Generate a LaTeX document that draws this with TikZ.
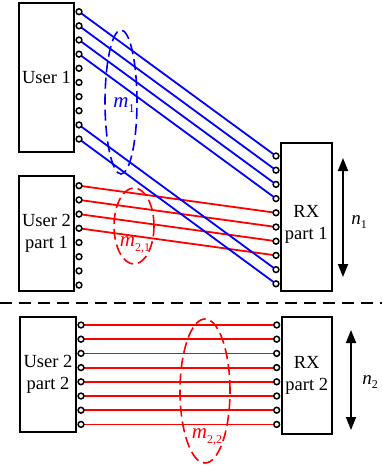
\documentclass[tikz,border=0pt]{standalone}
\usepackage{fontspec}
\setmainfont{Liberation Serif}
\usetikzlibrary{arrows.meta}
\newcommand{\subv}[3]{{\fontsize{#3}{#3}\selectfont\textit{#1}}\raisebox{-0.5ex}{\fontsize{12}{12}\selectfont #2}}
\begin{document}
\begin{tikzpicture}[x=1pt,y=-1pt,
  font=\fontsize{18.5}{22}\selectfont,
  box/.style={draw, line width=1.8pt, inner sep=0pt, align=center},
  port/.style={circle, draw, fill=white, line width=1.5pt, minimum size=5.8pt, inner sep=0pt},
  bl/.style={blue, line width=1.8pt},
  rd/.style={red, line width=1.8pt},
  grp/.style={dash pattern=on 11pt off 5pt, line width=1.6pt},
  dimarrow/.style={{Triangle[length=13pt,width=10pt]}-{Triangle[length=13pt,width=10pt]}, line width=1.8pt}]
\useasboundingbox (0,0) rectangle (382,466);
% boxes
\node[box, minimum width=55pt, minimum height=149pt] (u1) at (46.5,77.5) {User 1};
\node[box, minimum width=55pt, minimum height=115pt] (u21) at (46.5,233.5) {User 2\\part 1};
\node[box, minimum width=50.7pt, minimum height=148.3pt] (rx1) at (306.3,216.8) {};
\node[align=center] (rx1t) at (306.3,224) {RX\\part 1};
\node[box, minimum width=56pt, minimum height=115pt] (u22) at (48,374.2) {User 2\\part 2};
\node[box, minimum width=50pt, minimum height=117.3pt] (rx2) at (306.7,375.3) {RX\\part 2};
% port positions
\foreach \i in {1,...,10} \coordinate (pa\i) at (79,{11.7+14.15*(\i-1)});
\foreach \i in {1,...,8} \coordinate (pb\i) at (79,{185.7+14.2*(\i-1)});
\foreach \i in {1,...,10} \coordinate (pr\i) at (276,{156+14.2*(\i-1)});
\foreach \i in {1,...,8} \coordinate (pc\i) at (81,{325+14.2*(\i-1)});
\foreach \i in {1,...,8} \coordinate (pd\i) at (276.7,{325+14.2*(\i-1)});
% connectors
\foreach \i [evaluate=\i as \j using int(\i+4)] in {1,...,4} \draw[rd] (pb\i) -- (pr\j);
\foreach \i in {1,...,8} \draw[rd] (pc\i) -- (pd\i);
\foreach \i in {1,2,3,4,9,10} \draw[bl] (pa\i) -- (pr\i);
% ports
\foreach \i in {1,...,10} \node[port] (a\i) at (pa\i) {};
\foreach \i in {1,...,8} \node[port] (b\i) at (pb\i) {};
\foreach \i in {1,...,10} \node[port] (r\i) at (pr\i) {};
\foreach \i in {1,...,8} \node[port] (c\i) at (pc\i) {};
\foreach \i in {1,...,8} \node[port] (d\i) at (pd\i) {};
% groups
\draw[grp, blue] (121,102) ellipse [x radius=16pt, y radius=72pt];
\node[blue] (m1) at (124,105) {\subv{m}{1}{21}};
\draw[grp, red] (134,226) ellipse [x radius=20pt, y radius=38pt];
\node[red] (m21) at (135,245) {\subv{m}{2,1}{21}};
\draw[grp, red] (205,391) ellipse [x radius=25pt, y radius=72pt];
\node[red] (m22) at (207,437) {\subv{m}{2,2}{21}};
% separator
\coordinate (sepL) at (0,303);
\coordinate (sepR) at (382,303);
\draw[dash pattern=on 12pt off 7pt, line width=1.8pt] (sepL) -- (sepR);
% dimension arrows
\coordinate (n1t) at (343,158);
\coordinate (n1b) at (343,277);
\draw[dimarrow] (n1t) -- (n1b);
\node (n1) at (359,222) {\subv{n}{1}{19}};
\coordinate (n2t) at (351,330);
\coordinate (n2b) at (351,430);
\draw[dimarrow] (n2t) -- (n2b);
\node (n2) at (370,382) {\subv{n}{2}{19}};
\end{tikzpicture}
\end{document}
